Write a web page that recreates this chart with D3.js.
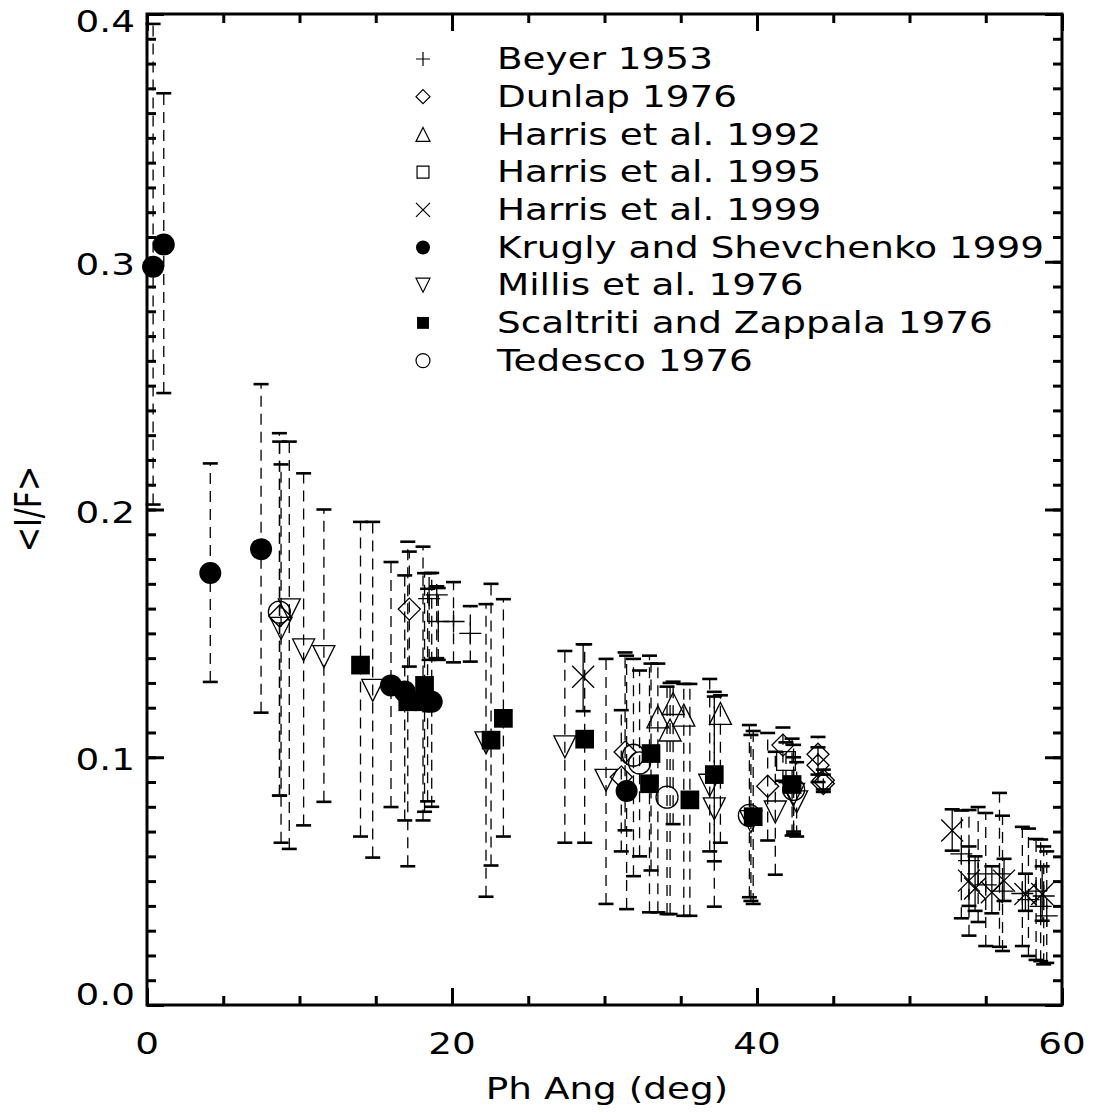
<!DOCTYPE html>
<html><head><meta charset="utf-8">
<script src="https://cdn.jsdelivr.net/npm/d3@7"></script>
<style>body{margin:0;background:#fff}</style>
</head><body>
<svg id="c" width="1093" height="1120"></svg>
<script>
// ---------- data: [phase angle (deg), <I/F>, error low, error high] ----------
const seriesNames = ["Beyer 1953","Dunlap 1976","Harris et al. 1992","Harris et al. 1995","Harris et al. 1999","Krugly and Shevchenko 1999","Millis et al. 1976","Scaltriti and Zappala 1976","Tedesco 1976"];
const seriesSymbols = ["plus","diamond","triup","square","cross","fcircle","tridown","fsquare","circle"];

const beyer1953 = [
  [18.5,0.1640,0.1393,0.1743],[19.0,0.1655,0.1400,0.1690],[19.1,0.1548,0.1393,0.1683],
  [20.1,0.1548,0.1383,0.1707],[21.2,0.1500,0.1386,0.1610],
  [53.4,0.0610,0.0350,0.0785],[53.9,0.0583,0.0280,0.0787],[54.5,0.0529,0.0335,0.0799],
  [55.0,0.0485,0.0238,0.0775],[55.9,0.0529,0.0235,0.0856],[56.1,0.0460,0.0218,0.0764],
  [57.4,0.0450,0.0238,0.0719],[57.8,0.0425,0.0198,0.0712],[58.3,0.0460,0.0182,0.0670],
  [58.6,0.0398,0.0177,0.0668],[58.8,0.0440,0.0164,0.0640],[59.0,0.0360,0.0170,0.0620]
];
const dunlap1976 = [
  [8.7,0.1570,0.0845,0.2274],[17.2,0.1598,0.1366,0.1830],[31.1,0.0920,0.0620,0.1190],
  [31.35,0.1021,0.0705,0.1423],[40.7,0.0883,0.0664,0.1098],[41.7,0.1049,0.0905,0.1120],
  [44.0,0.1012,0.0930,0.1082],[44.0,0.0968,0.0900,0.1040],[44.35,0.0907,0.0870,0.0950],
  [44.35,0.0894,0.0860,0.0930]
];
const harris1992 = [
  [33.5,0.1163,0.0374,0.1378],[34.3,0.1110,0.0367,0.1300],[34.5,0.1217,0.0730,0.1305],
  [35.2,0.1170,0.0360,0.1296],[37.6,0.1177,0.0655,0.1250]
];
const harris1995 = [
  [41.9,0.0985,0.0900,0.1060]
];
const harris1999 = [
  [28.6,0.1325,0.1186,0.1456],[52.8,0.0704,0.0623,0.0790],[53.9,0.0502,0.0400,0.0640],
  [54.3,0.0470,0.0380,0.0600],[55.4,0.0455,0.0370,0.0560],[56.2,0.0502,0.0420,0.0590],
  [57.6,0.0448,0.0380,0.0530],[58.7,0.0448,0.0340,0.0560]
];
const krugly1999 = [
  [0.4,0.298,0.202,0.396],[1.1,0.307,0.247,0.368],[4.15,0.1744,0.1304,0.2186],
  [7.48,0.184,0.118,0.2506],[16.0,0.129,0.0799,0.1788],[16.9,0.1265,0.0745,0.1734],
  [18.4,0.1224,0.0822,0.1680],[18.67,0.1224,0.0800,0.1744],[31.45,0.0864,0.0387,0.1410]
];
const millis1976 = [
  [8.79,0.152,0.0655,0.2182],[9.33,0.1595,0.0630,0.2274],[10.27,0.1433,0.0725,0.2146],
  [11.6,0.1406,0.0820,0.2000],[14.8,0.1270,0.0595,0.1950],[22.23,0.1058,0.0437,0.1618],
  [27.4,0.1042,0.0655,0.1429],[30.1,0.0907,0.0408,0.1397],[36.9,0.0887,0.0620,0.1316],
  [37.2,0.0792,0.0580,0.1245],[39.6,0.0740,0.0420,0.1090],[41.2,0.0779,0.0526,0.1022],
  [42.4,0.0850,0.0690,0.1000],[42.6,0.0820,0.0680,0.0980]
];
const scaltriti1976 = [
  [14.0,0.1372,0.0680,0.1950],[17.1,0.1224,0.0560,0.1870],[18.1,0.1224,0.0745,0.1850],
  [18.2,0.1290,0.0780,0.1743],[22.56,0.1069,0.0563,0.1700],[23.37,0.1157,0.0680,0.1638],
  [28.7,0.1073,0.0655,0.1456],[32.95,0.0893,0.0374,0.1410],[33.05,0.1015,0.0543,0.1378],
  [35.6,0.0828,0.0360,0.1296],[37.2,0.0930,0.0397,0.1264],[39.75,0.0760,0.0408,0.1106],
  [42.3,0.0890,0.0684,0.1075]
];
const tedesco1976 = [
  [8.68,0.1586,0.0845,0.2308],[31.9,0.1008,0.0520,0.1397],[32.3,0.0977,0.0600,0.1350],
  [34.1,0.0839,0.0367,0.1285],[39.5,0.0765,0.0435,0.1130],[42.4,0.0870,0.0700,0.1050]
];
const seriesData = [beyer1953,dunlap1976,harris1992,harris1995,harris1999,krugly1999,millis1976,scaltriti1976,tedesco1976];
const solidBars = [false,false,false,false,true,false,false,false,false];

const xMajor = [0,20,40,60];
const xMinor = d3.range(0,61,5);
const yMajor = [0,0.1,0.2,0.3,0.4];
const yMinor = d3.range(0,41,1).map(d=>d/100);
const xTitle = "Ph Ang (deg)";
const yTitle = "<I/F>";

// ---------- drawing ----------
const svg = d3.select("#c");
const FONT = "DejaVu Sans";
const FS = 30;
const L=147, R=1062, T=14, B=1005;
const x = d3.scaleLinear().domain([0,60]).range([L,R]);
const y = d3.scaleLinear().domain([0,0.4]).range([B,T]);

function symPath(t,s){
  switch(t){
    case "plus": return `M${-s},0H${s}M0,${-s}V${s}`;
    case "cross": return `M${-s},${-s}L${s},${s}M${-s},${s}L${s},${-s}`;
    case "diamond": return `M0,${-s}L${s},0L0,${s}L${-s},0Z`;
    case "triup": return `M0,${-s}L${s},${s}L${-s},${s}Z`;
    case "tridown": return `M0,${s}L${s},${-s}L${-s},${-s}Z`;
    case "square": case "fsquare": {const q=s*0.85;return `M${-q},${-q}H${q}V${q}H${-q}Z`;}
    case "circle": case "fcircle": {const r=s;return `M${r},0A${r},${r} 0 1,1 ${-r},0A${r},${r} 0 1,1 ${r},0Z`;}
  }
}
const filled = t => t==="fsquare"||t==="fcircle";

const plot = svg.append("g");
// error bars
seriesData.forEach((data,i)=>{
  const g = plot.append("g");
  data.forEach(d=>{
    const cx = x(d[0]);
    g.append("line").attr("x1",cx).attr("x2",cx).attr("y1",y(d[2])).attr("y2",y(d[3]))
      .attr("stroke","#000").attr("stroke-width",1.3)
      .attr("stroke-dasharray", solidBars[i] ? null : "11,7");
    [d[2],d[3]].forEach(v=>{
      g.append("line").attr("x1",cx-7.5).attr("x2",cx+7.5).attr("y1",y(v)).attr("y2",y(v))
        .attr("stroke","#000").attr("stroke-width",2.6);
    });
  });
});
// markers
seriesData.forEach((data,i)=>{
  const t = seriesSymbols[i];
  plot.append("g").selectAll("path").data(data).join("path")
    .attr("transform",d=>`translate(${x(d[0])},${y(d[1])})`)
    .attr("d",symPath(t,11))
    .attr("fill",filled(t)?"#000":"none")
    .attr("stroke","#000").attr("stroke-width",filled(t)?0:1.3);
});

// axes
function styleAxis(g){ g.select(".domain").remove(); g.selectAll("line").attr("stroke","#000").attr("stroke-width",3); }
const noLab = ()=>"";
svg.append("g").attr("transform",`translate(0,${B})`).call(d3.axisBottom(x).tickValues(xMinor).tickSize(-9).tickFormat(noLab)).call(styleAxis);
svg.append("g").attr("transform",`translate(0,${B})`).call(d3.axisBottom(x).tickValues(xMajor).tickSize(-17).tickFormat(noLab)).call(styleAxis);
svg.append("g").attr("transform",`translate(0,${T})`).call(d3.axisTop(x).tickValues(xMinor).tickSize(-9).tickFormat(noLab)).call(styleAxis);
svg.append("g").attr("transform",`translate(0,${T})`).call(d3.axisTop(x).tickValues(xMajor).tickSize(-17).tickFormat(noLab)).call(styleAxis);
svg.append("g").attr("transform",`translate(${L},0)`).call(d3.axisLeft(y).tickValues(yMinor).tickSize(-9).tickFormat(noLab)).call(styleAxis);
svg.append("g").attr("transform",`translate(${L},0)`).call(d3.axisLeft(y).tickValues(yMajor).tickSize(-17).tickFormat(noLab)).call(styleAxis);
svg.append("g").attr("transform",`translate(${R},0)`).call(d3.axisRight(y).tickValues(yMinor).tickSize(-9).tickFormat(noLab)).call(styleAxis);
svg.append("g").attr("transform",`translate(${R},0)`).call(d3.axisRight(y).tickValues(yMajor).tickSize(-17).tickFormat(noLab)).call(styleAxis);
svg.append("rect").attr("x",L).attr("y",T).attr("width",R-L).attr("height",B-T)
  .attr("fill","none").attr("stroke","#000").attr("stroke-width",3);

// text scaling to match the wide vector font of the original
const probe = svg.append("text").attr("font-family",FONT).attr("font-size",FS).text("Beyer 1953");
const SX = 216 / probe.node().getComputedTextLength();
probe.remove();

function label(g, txt, px, py, anchor, rot){
  const t = g.append("text").attr("font-family",FONT).attr("font-size",FS).attr("fill","#000")
    .attr("text-anchor",anchor).attr("dominant-baseline","central").text(txt);
  t.attr("transform",`translate(${px},${py})${rot?` rotate(${rot})`:""} scale(${rot?1:SX},${rot?SX:1})`);
  return t;
}
const labs = svg.append("g");
xMajor.forEach(v=>label(labs, d3.format("d")(v), x(v), 1044, "middle"));
const yShift = v => v===0.4 ? 8 : (v===0 ? -10 : 3);
yMajor.forEach(v=>label(labs, d3.format(".1f")(v), 135, y(v)+yShift(v), "end"));
label(labs, xTitle, 607, 1089, "middle");
label(labs, yTitle, 28, 509, "middle", -90);

// legend
const lg = svg.append("g");
seriesNames.forEach((n,i)=>{
  const ly = 59 + i*37.7;
  const t = seriesSymbols[i];
  lg.append("path").attr("transform",`translate(423,${ly})`).attr("d",symPath(t,7))
    .attr("fill",filled(t)?"#000":"none").attr("stroke","#000").attr("stroke-width",filled(t)?0:1.2);
  label(lg, n, 497, ly, "start");
});
</script>
</body></html>
